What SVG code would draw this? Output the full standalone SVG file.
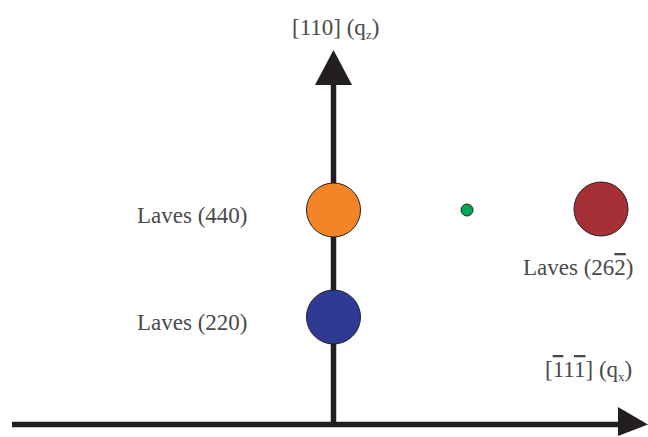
<svg xmlns="http://www.w3.org/2000/svg" width="648" height="437" viewBox="0 0 648 437">
<style>
.lbl{font-family:"Liberation Serif","Times New Roman",serif;font-size:23px;fill:#4a4a4a}
.sub{font-size:13px}
.axis{stroke:#231f20;stroke-width:5.5;fill:none}
.head{fill:#231f20}
.dot{stroke:#231f20;stroke-width:1}
</style>
<rect width="648" height="437" fill="#ffffff"/>
<g id="connectors">
<line class="axis" x1="12" y1="424.5" x2="620" y2="424.5"/>
<polygon class="head" points="618,407 648,424.5 618,436"/>
<line class="axis" x1="333.5" y1="424.5" x2="333.5" y2="83"/>
<polygon class="head" points="315,85 333.5,50 352,85"/>
</g>
<g id="axis-z-label">
<text class="lbl" x="292" y="35">[110] (q<tspan class="sub" dy="4">z</tspan><tspan dy="-4">)</tspan></text>
</g>
<g id="axis-x-label">
<text class="lbl" x="545" y="377">[<tspan text-decoration="overline">1</tspan>1<tspan text-decoration="overline">1</tspan>] (q<tspan class="sub" dy="4">x</tspan><tspan dy="-4">)</tspan></text>
</g>
<g id="laves-440">
<circle class="dot" cx="333.5" cy="210" r="27" fill="#f48526"/>
<text class="lbl" x="137" y="223">Laves (440)</text>
</g>
<g id="laves-220">
<circle class="dot" cx="333.5" cy="317" r="27" fill="#2e3a93"/>
<text class="lbl" x="137" y="330">Laves (220)</text>
</g>
<g id="green-point">
<circle class="dot" cx="467" cy="210" r="6" fill="#00a651"/>
</g>
<g id="laves-262">
<circle class="dot" cx="601" cy="209" r="27" fill="#a72f36"/>
<text class="lbl" x="523" y="275">Laves (26<tspan text-decoration="overline">2</tspan>)</text>
</g>
</svg>
